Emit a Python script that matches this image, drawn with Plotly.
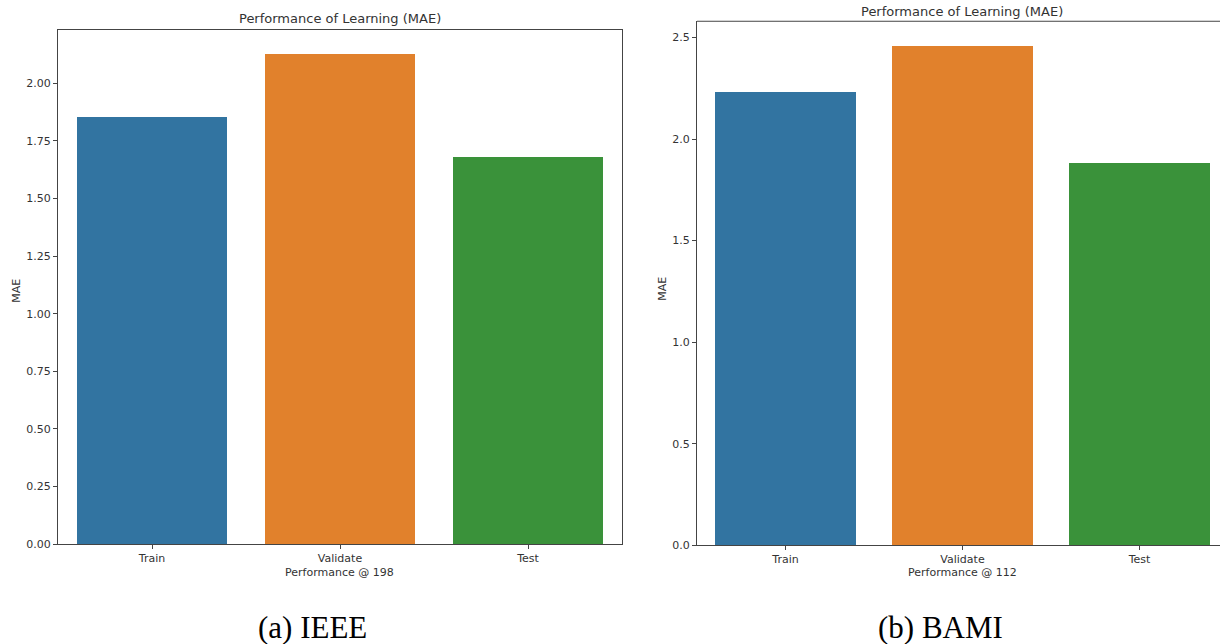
import plotly.graph_objects as go

categories = ["Train", "Validate", "Test"]
ieee_mae = [1.853, 2.126, 1.680]
bami_mae = [2.229, 2.456, 1.880]
colors = ["#3274a1", "#e1812c", "#3a923a"]

W, H = 1220, 644
def px(x): return x / W
def py(y):
    y = (y + 1.3) / 0.991
    return 1 - y / H

fig = go.Figure()
fig.add_trace(go.Bar(x=categories, y=ieee_mae, marker=dict(color=colors, line=dict(width=0)),
                     width=0.8, xaxis="x", yaxis="y", showlegend=False))
fig.add_trace(go.Bar(x=categories, y=bami_mae, marker=dict(color=colors, line=dict(width=0)),
                     width=0.8, xaxis="x2", yaxis="y2", showlegend=False))

axis_font = dict(family="DejaVu Sans", size=11, color="#333333")
common_x = dict(type="category", showline=True, linecolor="#444444", linewidth=1, mirror=True,
                ticks="outside", ticklen=4, tickcolor="#444444", tickfont=axis_font,
                showgrid=False, zeroline=False, fixedrange=True)
common_y = dict(showline=True, linecolor="#444444", linewidth=1, mirror=True,
                ticks="outside", ticklen=4, tickcolor="#444444", tickfont=axis_font,
                showgrid=False, zeroline=False, fixedrange=True)

fig.update_layout(
    width=W, height=H, margin=dict(l=0, r=0, t=0, b=0),
    paper_bgcolor="white", plot_bgcolor="white",
    bargap=0,
    xaxis=dict(common_x, domain=[px(58), px(622)], range=[-0.5, 2.5], anchor="y"),
    yaxis=dict(common_y, domain=[py(544), py(29)], range=[0, 2.229], dtick=0.25,
               tickformat=".2f", anchor="x"),
    xaxis2=dict(common_x, domain=[px(697), 1.0], range=[-0.5, 2.455], anchor="y2", mirror=False),
    yaxis2=dict(common_y, domain=[py(545), py(20)], range=[0, 2.58], dtick=0.5,
                tickformat=".1f", anchor="x2", mirror=False),
)

# top border for right panel (right spine clipped by image edge)
fig.add_shape(type="line", xref="x2 domain", yref="y2 domain", x0=0, x1=1, y0=1, y1=1,
              line=dict(color="#444444", width=1))

txt = dict(family="DejaVu Sans", size=11, color="#333333")
ann = [
    dict(text="Performance of Learning (MAE)", x=px(340), y=py(17), font=dict(txt, size=13)),
    dict(text="Performance of Learning (MAE)", x=px(962), y=py(10), font=dict(txt, size=13)),
    dict(text="Performance @ 198", x=px(340), y=py(572), font=dict(txt, size=11)),
    dict(text="Performance @ 112", x=px(962), y=py(572), font=dict(txt, size=11)),
    dict(text="MAE", x=px(17), y=py(290), font=dict(txt, size=11), textangle=-90),
    dict(text="MAE", x=px(663), y=py(288), font=dict(txt, size=11), textangle=-90),
    dict(text="(a) IEEE", x=px(312), y=py(627), font=dict(family="Liberation Serif", size=31, color="black")),
    dict(text="(b) BAMI", x=px(940), y=py(627), font=dict(family="Liberation Serif", size=31, color="black")),
]
for a in ann:
    fig.add_annotation(xref="paper", yref="paper", showarrow=False, xanchor="center", yanchor="middle", **a)

fig.write_html("out.html", config={"displayModeBar": False},
               post_script="document.body.style.margin='0';document.body.style.overflow='hidden';")
